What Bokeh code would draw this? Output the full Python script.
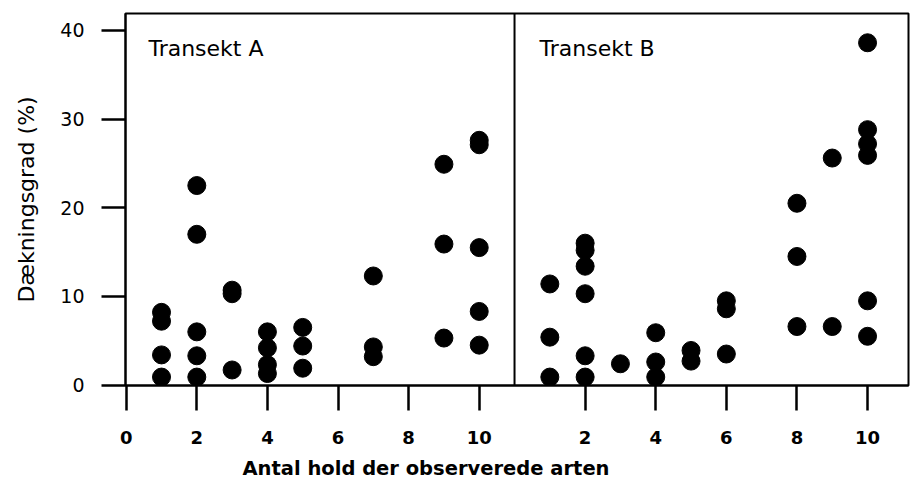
from bokeh.plotting import figure
from bokeh.models import Range1d, Span, Label, Title
from bokeh.embed import file_html
from bokeh.resources import INLINE

# ---- data ----
a_x = [1, 1, 1, 1, 2, 2, 2, 2, 2, 3, 3, 3, 4, 4, 4, 4, 5, 5, 5, 7, 7, 7, 9, 9, 9, 10, 10, 10, 10, 10]
a_y = [8.2, 7.2, 3.4, 0.9, 22.5, 17.0, 6.0, 3.3, 0.9, 10.7, 10.3, 1.7, 6.0, 4.2, 2.3, 1.3,
       6.5, 4.4, 1.9, 12.3, 4.3, 3.2, 24.9, 15.9, 5.3, 27.6, 27.1, 15.5, 8.3, 4.5]

b_x = [1, 1, 1, 2, 2, 2, 2, 2, 2, 3, 4, 4, 4, 5, 5, 6, 6, 6, 8, 8, 8, 9, 9, 10, 10, 10, 10, 10, 10]
b_y = [11.4, 5.4, 0.9, 16.0, 15.2, 13.4, 10.3, 3.3, 0.9, 2.4, 5.9, 2.6, 0.9, 3.9, 2.7,
       9.5, 8.6, 3.5, 20.5, 14.5, 6.6, 25.6, 6.6, 38.6, 28.8, 27.2, 25.9, 9.5, 5.5]

a_ticks = [0, 2, 4, 6, 8, 10]
b_ticks = [2, 4, 6, 8, 10]
y_ticks = [0, 10, 20, 30, 40]

panel_titles = ["Transekt A", "Transekt B"]
x_label = "Antal hold der observerede arten"
y_label = "Dækningsgrad (%)"

B_OFFSET = 11  # panel B drawn to the right of panel A on a shared x scale
FONT = "DejaVu Sans"

p = figure(width=910, height=488, output_backend="svg", toolbar_location=None,
           x_range=Range1d(-0.02, 22.16), y_range=Range1d(-0.05, 41.9),
           min_border_left=125, min_border_right=2, min_border_top=13, min_border_bottom=103)
p.grid.visible = False
p.outline_line_color = "black"
p.outline_line_width = 2
p.background_fill_color = "white"
p.border_fill_color = "white"

p.scatter(a_x, a_y, size=18, color="black")
p.scatter([x + B_OFFSET for x in b_x], b_y, size=18, color="black")

# divider between the panels
p.add_layout(Span(location=11.0, dimension="height", line_color="black", line_width=2))

# x axis
xt = a_ticks + [t + B_OFFSET for t in b_ticks]
p.xaxis.ticker = xt
p.xaxis.major_label_overrides = {**{t: str(t) for t in a_ticks},
                                 **{t + B_OFFSET: str(t) for t in b_ticks}}
p.xaxis.minor_tick_line_color = None
p.xaxis.major_tick_in = 0
p.xaxis.major_tick_out = 25
p.xaxis.major_tick_line_width = 2.5
p.xaxis.axis_line_width = 2
p.xaxis.major_label_standoff = 20
p.xaxis.major_label_text_font = FONT
p.xaxis.major_label_text_font_size = "18px"
p.xaxis.major_label_text_font_style = "bold"
p.xaxis.major_label_text_color = "black"

# y axis
p.yaxis.ticker = y_ticks
p.yaxis.minor_tick_line_color = None
p.yaxis.major_tick_in = 0
p.yaxis.major_tick_out = 24
p.yaxis.major_tick_line_width = 2.5
p.yaxis.axis_line_width = 2
p.yaxis.major_label_standoff = 17
p.yaxis.major_label_text_font = FONT
p.yaxis.major_label_text_font_size = "19px"
p.yaxis.major_label_text_color = "black"
p.yaxis.axis_label = y_label
p.yaxis.axis_label_text_font = FONT
p.yaxis.axis_label_text_font_size = "22px"
p.yaxis.axis_label_text_font_style = "normal"
p.yaxis.axis_label_text_color = "black"
p.yaxis.axis_label_standoff = 18

# panel titles
p.add_layout(Label(x=0.63, y=38.0, text=panel_titles[0], text_baseline="middle",
                   text_font=FONT, text_font_size="22px", text_color="black"))
p.add_layout(Label(x=11.71, y=38.0, text=panel_titles[1], text_baseline="middle",
                   text_font=FONT, text_font_size="22px", text_color="black"))

# x axis label, placed off-centre as in the original
p.add_layout(Title(text=x_label, align="left", offset=117, standoff=17,
                   text_font=FONT, text_font_size="19.5px", text_font_style="bold",
                   text_color="black"), "below")

open("out.html", "w").write(file_html(p, INLINE))
